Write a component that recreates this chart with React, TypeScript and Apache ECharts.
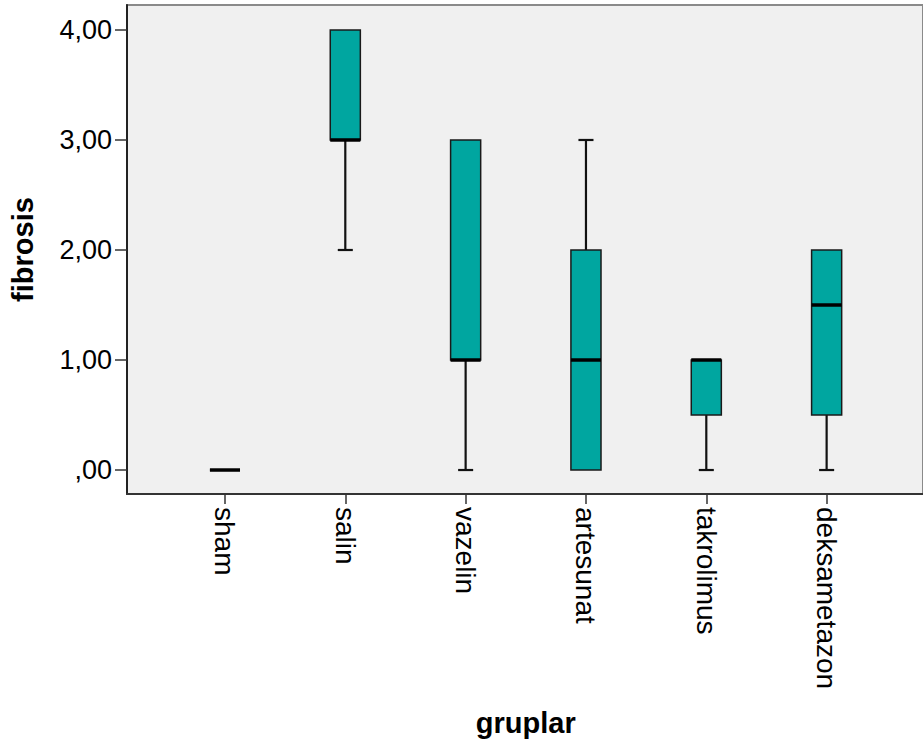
import React, { useEffect, useRef } from "react";
import * as echarts from "echarts";

const categories = ["sham", "salin", "vazelin", "artesunat", "takrolimus", "deksametazon"];
const minValues = [0, 2, 0, 0, 0, 0];
const q1Values = [0, 3, 1, 0, 0.5, 0.5];
const medianValues = [0, 3, 1, 1, 1, 1.5];
const q3Values = [0, 4, 3, 2, 1, 2];
const maxValues = [0, 4, 3, 3, 1, 2];
const yTickValues = [0, 1, 2, 3, 4];
const yTickLabels = [",00", "1,00", "2,00", "3,00", "4,00"];

const FONT = "'Liberation Sans', Arial, sans-serif";
const Y_MIN = -0.218;
const Y_MAX = 4.227;

export default function App() {
  const ref = useRef<HTMLDivElement>(null);
  useEffect(() => {
    if (!ref.current) return;
    const chart = echarts.init(ref.current, null, { renderer: "svg" });
    const data = categories.map((c, i) => [i, minValues[i], q1Values[i], medianValues[i], q3Values[i], maxValues[i]]);
    const option: any = {
      animation: false,
      backgroundColor: "#ffffff",
      grid: [
        { left: 125, top: 5, width: 830, height: 489, show: true, backgroundColor: "#f0f0f0", borderColor: "#8a8a8a", borderWidth: 2 },
        { left: 164.8, top: 5, width: 722, height: 489, show: false },
      ],
      xAxis: [
        {
          gridIndex: 0, type: "value", min: 0, max: 1,
          axisLine: { show: true, onZero: false, lineStyle: { color: "#333", width: 2 } },
          axisTick: { show: false }, axisLabel: { show: false }, splitLine: { show: false },
        },
        {
          gridIndex: 1, type: "category", data: categories, boundaryGap: true,
          axisLine: { show: false, onZero: false },
          axisTick: { show: true, alignWithLabel: true, length: 10, lineStyle: { color: "#333", width: 1.5 } },
          axisLabel: { rotate: -90, fontSize: 28, color: "#000", fontFamily: FONT, margin: 13 },
          splitLine: { show: false },
          name: "gruplar", nameLocation: "middle", nameGap: 214,
          nameTextStyle: { fontSize: 29, fontWeight: "bold", color: "#000", fontFamily: FONT },
        },
      ],
      yAxis: [
        {
          gridIndex: 0, type: "value", min: Y_MIN, max: Y_MAX,
          axisLine: { show: true, onZero: false, lineStyle: { color: "#222", width: 2 } },
          axisTick: { show: true, customValues: yTickValues, length: 12, lineStyle: { color: "#333", width: 1.5 } },
          axisLabel: {
            customValues: yTickValues, fontSize: 27, color: "#000", fontFamily: FONT, margin: 15,
            formatter: (v: number) => yTickLabels[yTickValues.indexOf(Math.round(v))] ?? "",
          },
          splitLine: { show: false },
          name: "fibrosis", nameLocation: "middle", nameGap: 90, nameRotate: 90,
          nameTextStyle: { fontSize: 29, fontWeight: "bold", color: "#000", fontFamily: FONT },
        },
        { gridIndex: 1, type: "value", min: Y_MIN, max: Y_MAX, show: false, axisLine: { onZero: false } },
      ],
      series: [
        {
          type: "custom", xAxisIndex: 1, yAxisIndex: 1, data, clip: false,
          encode: { x: 0, y: [1, 2, 3, 4, 5] },
          renderItem: (params: any, api: any) => {
            const idx = api.value(0);
            const vmin = api.value(1), q1 = api.value(2), med = api.value(3), q3 = api.value(4), vmax = api.value(5);
            const band = api.size([1, 0])[0];
            const hw = band * 0.125;
            const cw = band * 0.0625;
            const pMin = api.coord([idx, vmin]);
            const pQ1 = api.coord([idx, q1]);
            const pMed = api.coord([idx, med]);
            const pQ3 = api.coord([idx, q3]);
            const pMax = api.coord([idx, vmax]);
            const x = pQ1[0];
            const children: any[] = [];
            const wStyle = { stroke: "#111", lineWidth: 2.2 };
            if (vmin < q1) {
              children.push({ type: "line", shape: { x1: x, y1: pMin[1], x2: x, y2: pQ1[1] }, style: wStyle });
              children.push({ type: "line", shape: { x1: x - cw, y1: pMin[1], x2: x + cw, y2: pMin[1] }, style: wStyle });
            }
            if (vmax > q3) {
              children.push({ type: "line", shape: { x1: x, y1: pQ3[1], x2: x, y2: pMax[1] }, style: wStyle });
              children.push({ type: "line", shape: { x1: x - cw, y1: pMax[1], x2: x + cw, y2: pMax[1] }, style: wStyle });
            }
            children.push({
              type: "rect",
              shape: { x: x - hw, y: pQ3[1], width: hw * 2, height: pQ1[1] - pQ3[1] },
              style: { fill: "#00a6a0", stroke: "#1a1a1a", lineWidth: 1.5 },
            });
            children.push({ type: "line", shape: { x1: x - hw, y1: pMed[1], x2: x + hw, y2: pMed[1] }, style: { stroke: "#000", lineWidth: 3.5 } });
            return { type: "group", children };
          },
        },
      ],
    };
    chart.setOption(option);
    return () => chart.dispose();
  }, []);
  return <div ref={ref} style={{ position: "fixed", left: 0, top: 0, width: 923, height: 747 }} />;
}
